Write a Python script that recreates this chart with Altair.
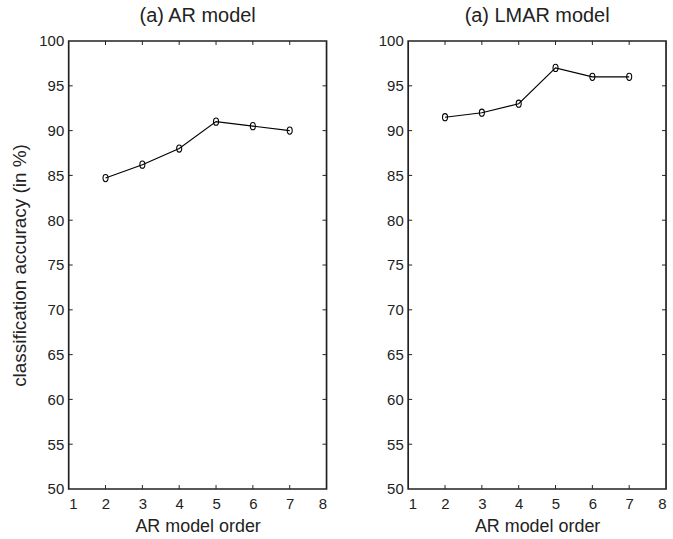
import altair as alt
import pandas as pd

orders = [2, 3, 4, 5, 6, 7]
ar_acc = [84.7, 86.2, 88.0, 91.0, 90.5, 90.0]
lmar_acc = [91.5, 92.0, 93.0, 97.0, 96.0, 96.0]
x_ticks = [1, 2, 3, 4, 5, 6, 7, 8]
y_ticks = [50, 55, 60, 65, 70, 75, 80, 85, 90, 95, 100]
panel_titles = ["(a) AR model", "(a) LMAR model"]
x_title = "AR model order"
y_title = "classification accuracy (in %)"

W, H = 259, 450
TL = 4  # inward tick length
INK = "#222222"
FONT = "Liberation Sans"
ELLIPSE = ("M0,-1 C0.387,-1 0.7,-0.552 0.7,0 C0.7,0.552 0.387,1 0,1 "
           "C-0.387,1 -0.7,0.552 -0.7,0 C-0.7,-0.552 -0.387,-1 0,-1 Z")


def panel(acc, title, show_ytitle):
    df = pd.DataFrame({"order": orders, "acc": acc})
    xs = alt.Scale(domain=[x_ticks[0], x_ticks[-1]], nice=False, zero=False)
    ys = alt.Scale(domain=[y_ticks[0], y_ticks[-1]], nice=False, zero=False)
    x = alt.X("order:Q", scale=xs,
              axis=alt.Axis(values=x_ticks, title=x_title, ticks=False, domain=False,
                            grid=False, labelPadding=8, format="d", titlePadding=6))
    if show_ytitle:
        yaxis = alt.Axis(values=y_ticks, title=y_title, ticks=False, domain=False,
                         grid=False, labelPadding=5, format="d", titlePadding=9,
                         titleFontSize=19)
    else:
        yaxis = alt.Axis(values=y_ticks, title=None, ticks=False, domain=False,
                         grid=False, labelPadding=5, format="d")
    y = alt.Y("acc:Q", scale=ys, axis=yaxis)
    base = alt.Chart(df)
    line = base.mark_line(color="black", strokeWidth=1.1).encode(x=x, y=y)
    pts = base.mark_point(shape=ELLIPSE, size=52, filled=False, color="black",
                          strokeWidth=1.1, opacity=1).encode(x=x, y=y)

    xt = pd.DataFrame({"order": x_ticks[1:-1]})
    yt = pd.DataFrame({"acc": y_ticks[1:-1]})
    bottom = alt.Chart(xt).mark_rule(color=INK, strokeWidth=1).encode(
        x=x, y=alt.value(H), y2=alt.value(H - TL))
    top = alt.Chart(xt).mark_rule(color=INK, strokeWidth=1).encode(
        x=x, y=alt.value(0), y2=alt.value(TL))
    left = alt.Chart(yt).mark_rule(color=INK, strokeWidth=1).encode(
        y=y, x=alt.value(0), x2=alt.value(TL))
    right = alt.Chart(yt).mark_rule(color=INK, strokeWidth=1).encode(
        y=y, x=alt.value(W), x2=alt.value(W - TL))

    return alt.layer(line, pts, bottom, top, left, right).properties(
        width=W, height=H,
        title=alt.TitleParams(title, fontSize=20, fontWeight="normal", font=FONT,
                              color=INK, offset=8, anchor="middle"))


chart = alt.hconcat(
    panel(ar_acc, panel_titles[0], True),
    panel(lmar_acc, panel_titles[1], False),
    spacing=82, bounds="flush",
).properties(
    padding={"left": 10, "top": 4, "right": 5, "bottom": 0},
    background="white",
).configure_view(
    stroke=INK, strokeWidth=1.7
).configure_axis(
    labelFont=FONT, titleFont=FONT, labelFontSize=15, titleFontSize=18,
    labelColor=INK, titleColor=INK, titleFontWeight="normal"
)

chart.save("out.html", embed_options={"renderer": "svg", "actions": False})
